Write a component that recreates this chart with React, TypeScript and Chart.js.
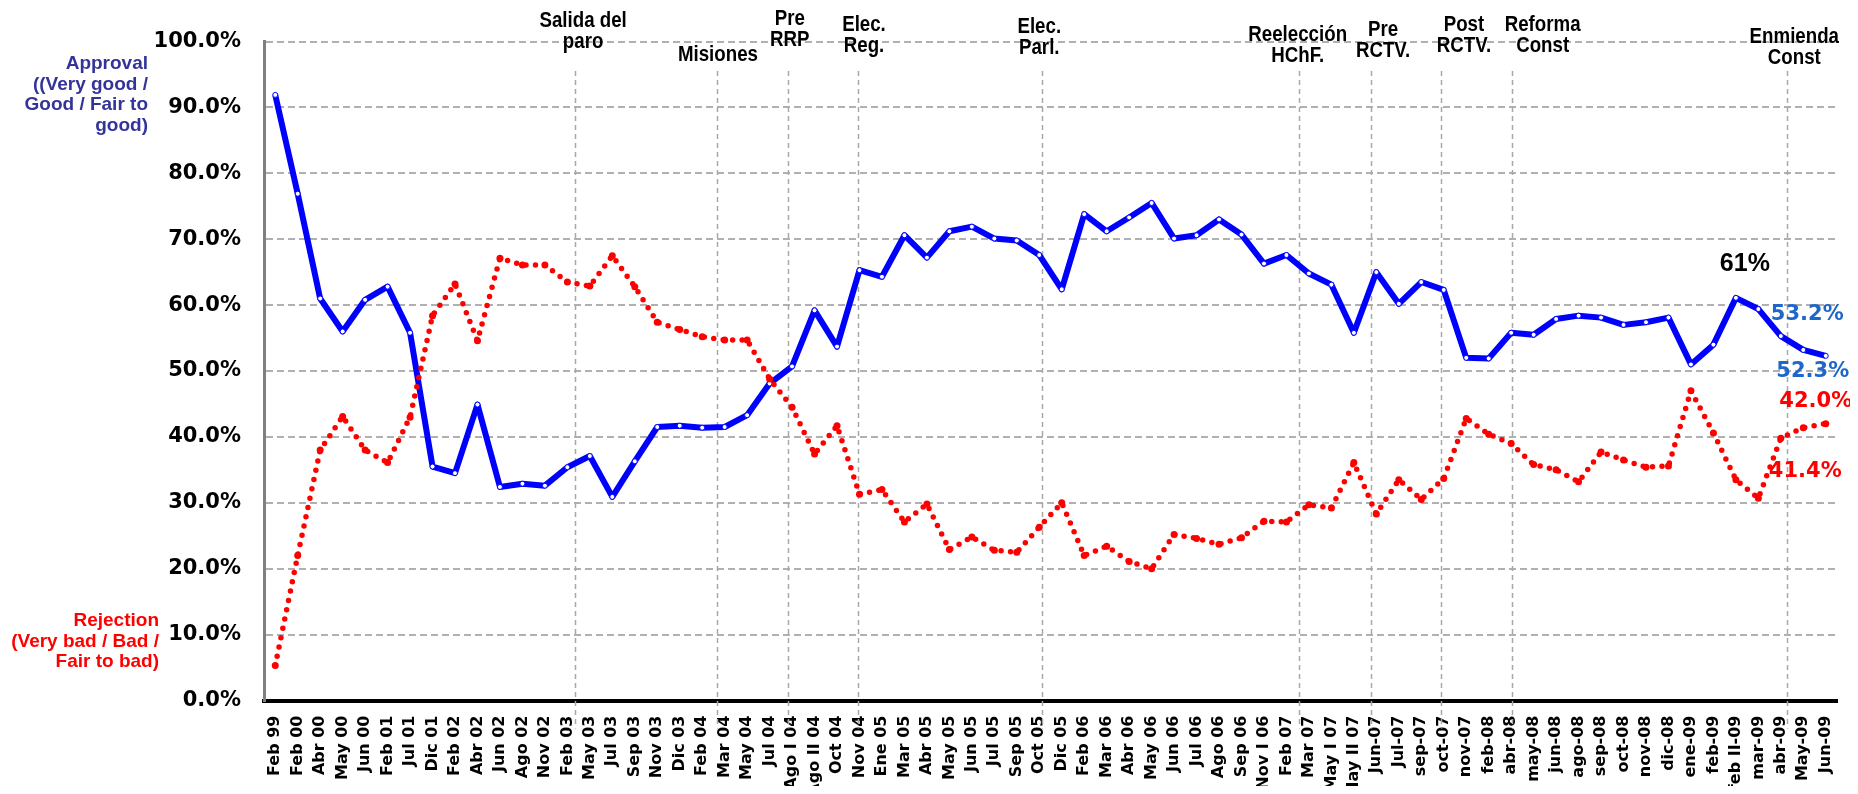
import React, { useEffect, useRef } from "react";
import { Chart, registerables } from "chart.js";

Chart.register(...registerables);

const categories = [
  "Feb 99", "Feb 00", "Abr 00", "May 00", "Jun 00", "Feb 01", "Jul 01", "Dic 01", "Feb 02", "Abr 02",
  "Jun 02", "Ago 02", "Nov 02", "Feb 03", "May 03", "Jul 03", "Sep 03", "Nov 03", "Dic 03", "Feb 04",
  "Mar 04", "May 04", "Jul 04", "Ago I 04", "Ago II 04", "Oct 04", "Nov 04", "Ene 05", "Mar 05", "Abr 05",
  "May 05", "Jun 05", "Jul 05", "Sep 05", "Oct 05", "Dic 05", "Feb 06", "Mar 06", "Abr 06", "May 06",
  "Jun 06", "Jul 06", "Ago 06", "Sep 06", "Nov I 06", "Feb 07", "Mar 07", "May I 07", "May II 07", "Jun-07",
  "Jul-07", "sep-07", "oct-07", "nov-07", "feb-08", "abr-08", "may-08", "jun-08", "ago-08", "sep-08",
  "oct-08", "nov-08", "dic-08", "ene-09", "feb-09", "feb II-09", "mar-09", "abr-09", "May-09", "Jun-09",
];

const approval = [
  91.9, 76.9, 61.0, 56.0, 60.8, 62.8, 55.8, 35.5, 34.5, 44.9,
  32.4, 32.9, 32.6, 35.4, 37.1, 30.9, 36.3, 41.5, 41.7, 41.4,
  41.5, 43.3, 48.1, 50.7, 59.2, 53.7, 65.3, 64.3, 70.6, 67.2,
  71.2, 71.9, 70.1, 69.8, 67.6, 62.4, 73.8, 71.2, 73.3, 75.5,
  70.1, 70.6, 73.0, 70.7, 66.3, 67.6, 64.8, 63.1, 55.8, 65.0,
  60.2, 63.5, 62.3, 52.0, 51.9, 55.8, 55.5, 57.9, 58.4, 58.1,
  57.0, 57.4, 58.1, 51.0, 54.0, 61.1, 59.4, 55.3, 53.2, 52.3,
];

const rejection = [
  5.3, 22.0, 38.0, 43.1, 38.0, 36.1, 43.0, 58.4, 63.2, 54.6,
  67.1, 66.1, 66.1, 63.5, 62.9, 67.5, 62.8, 57.4, 56.3, 55.2,
  54.7, 54.7, 48.8, 44.5, 37.4, 41.7, 31.3, 32.0, 27.1, 29.8,
  22.9, 24.8, 22.8, 22.5, 26.3, 30.0, 22.0, 23.4, 21.1, 20.0,
  25.2, 24.6, 23.7, 24.7, 27.2, 27.1, 29.7, 29.2, 36.1, 28.3,
  33.5, 30.5, 33.7, 42.8, 40.4, 39.0, 35.8, 35.0, 33.2, 37.7,
  36.5, 35.4, 35.6, 47.0, 40.6, 33.5, 30.7, 39.8, 41.4, 42.0,
];

const yTickValues = [0, 10, 20, 30, 40, 50, 60, 70, 80, 90, 100];

const eventLabels = [
  ["Salida del", "paro"],
  ["Misiones"],
  ["Pre", "RRP"],
  ["Elec.", "Reg."],
  ["Elec.", "Parl."],
  ["Reelección", "HChF."],
  ["Pre", "RCTV."],
  ["Post", "RCTV."],
  ["Reforma", "Const"],
  ["Enmienda", "Const"],
];
// event marker positions, in category units
const eventLinePos = [13.34, 19.68, 22.8, 25.95, 34.13, 45.58, 48.76, 51.89, 55.03, 67.26];
const eventTextPos = [13.7, 19.7, 22.9, 26.2, 34.0, 45.5, 49.3, 52.9, 56.4, 67.6];
const eventTextY = [13, 47, 11, 17, 19, 27, 22, 17, 17, 29];

const approvalTitle = ["Approval", "((Very good /", "Good / Fair to", "good)"];
const rejectionTitle = ["Rejection", "(Very bad / Bad /", "Fair to bad)"];

export default function App() {
  const ref = useRef<HTMLCanvasElement>(null);

  useEffect(() => {
    const canvas = ref.current;
    if (!canvas) return;

    const overlay = {
      id: "overlay",
      beforeDatasetsDraw(chart: any) {
        const ctx = chart.ctx;
        const xs = chart.scales.x;
        const area = chart.chartArea;
        const x0 = xs.getPixelForValue(0);
        const step = xs.getPixelForValue(1) - x0;
        ctx.save();
        ctx.strokeStyle = "#A8A8A8";
        ctx.lineWidth = 1.5;
        ctx.setLineDash([5, 4]);
        for (const p of eventLinePos) {
          const x = Math.round(x0 + p * step) + 0.5;
          ctx.beginPath();
          ctx.moveTo(x, 63);
          ctx.lineTo(x, area.bottom + 28);
          ctx.stroke();
        }
        ctx.restore();
      },
      afterDraw(chart: any) {
        const ctx = chart.ctx;
        const xs = chart.scales.x;
        const ys = chart.scales.y;
        const x0 = xs.getPixelForValue(0);
        const step = xs.getPixelForValue(1) - x0;
        ctx.save();
        // event annotations (narrow bold face)
        ctx.fillStyle = "#000";
        ctx.textAlign = "center";
        ctx.textBaseline = "middle";
        ctx.font = "bold 22px 'Liberation Sans', Arial, sans-serif";
        const sx = 0.85;
        eventLabels.forEach((lines, i) => {
          const x = x0 + eventTextPos[i] * step;
          lines.forEach((t, j) => {
            ctx.save();
            ctx.translate(x, eventTextY[i] + j * 21);
            ctx.scale(sx, 1);
            ctx.fillText(t, 0, 0);
            ctx.restore();
          });
        });
        // axis titles
        ctx.textAlign = "right";
        ctx.font = "bold 19px 'Liberation Sans', Arial, sans-serif";
        ctx.fillStyle = "#333399";
        approvalTitle.forEach((t, j) => ctx.fillText(t, 140, 56 + j * 20.5));
        ctx.fillStyle = "#FF0000";
        rejectionTitle.forEach((t, j) => ctx.fillText(t, 151, 613 + j * 20.5));
        // data labels
        ctx.textAlign = "center";
        const px = (i: number) => xs.getPixelForValue(i);
        const py = (v: number) => ys.getPixelForValue(v);
        const peak = 65;
        ctx.font = "bold 25px 'Liberation Sans', Arial, sans-serif";
        ctx.fillStyle = "#000";
        ctx.fillText(Math.round(approval[peak]) + "%", px(peak) + 9, py(approval[peak]) - 34);
        ctx.font = "bold 21px 'DejaVu Sans', sans-serif";
        const n = approval.length;
        ctx.fillStyle = "#1F66CC";
        ctx.fillText(approval[n - 2].toFixed(1) + "%", px(n - 2) + 4, py(approval[n - 2]) - 35);
        ctx.fillText(approval[n - 1].toFixed(1) + "%", px(n - 1) - 13, py(approval[n - 1]) + 16);
        ctx.fillStyle = "#FF0000";
        ctx.fillText(rejection[n - 1].toFixed(1) + "%", px(n - 1) - 10, py(rejection[n - 1]) - 22);
        ctx.fillText(rejection[n - 2].toFixed(1) + "%", px(n - 2) + 2, py(rejection[n - 2]) + 44);
        ctx.restore();
      },
    };

    const chart = new Chart(canvas, {
      type: "line",
      data: {
        labels: categories,
        datasets: [
          {
            label: "Rejection",
            data: rejection,
            order: 0,
            borderColor: "#FF0000",
            borderWidth: 5.5,
            borderDash: [0, 9.5],
            borderCapStyle: "round",
            pointRadius: 3.5,
            pointBackgroundColor: "#FF0000",
            pointBorderWidth: 0,
            tension: 0,
            fill: false,
          },
          {
            label: "Approval",
            data: approval,
            order: 1,
            borderColor: "#0000FF",
            borderWidth: 6,
            borderJoinStyle: "round",
            pointRadius: 2.5,
            pointBackgroundColor: "#FFFFFF",
            pointBorderColor: "#0000FF",
            pointBorderWidth: 1,
            tension: 0,
            fill: false,
          },
        ],
      },
      options: {
        animation: false,
        responsive: true,
        maintainAspectRatio: false,
        layout: { padding: { top: 33.5, right: 13, left: 0, bottom: 0 } },
        plugins: {
          legend: { display: false },
          tooltip: { enabled: false },
        },
        scales: {
          x: {
            type: "category",
            offset: true,
            grid: { display: false, drawTicks: false },
            border: { display: true, color: "#000000", width: 4 },
            ticks: {
              autoSkip: false,
              minRotation: 90,
              maxRotation: 90,
              padding: 15,
              color: "#000",
              font: { family: "'DejaVu Sans', sans-serif", weight: "bold", size: 16 },
            },
            afterFit(s: any) {
              s.height = 85.5;
              s.paddingLeft = 0;
              s.paddingRight = 0;
            },
          },
          y: {
            min: 0,
            max: 100,
            afterBuildTicks(s: any) {
              s.ticks = yTickValues.map((v) => ({ value: v }));
            },
            grid: { color: "#B0B0B0", lineWidth: 2, drawTicks: false },
            border: { display: true, color: "#808080", width: 3, dash: [7, 4] },
            ticks: {
              padding: 23,
              color: "#000",
              font: { family: "'DejaVu Sans', sans-serif", weight: "bold", size: 21 },
              callback: (v: any) => Number(v).toFixed(1) + "%",
            },
            afterFit(s: any) {
              s.width = 256;
              s.paddingTop = 0;
              s.paddingBottom = 0;
            },
          },
        },
      },
      plugins: [overlay],
    });
    return () => chart.destroy();
  }, []);

  return (
    <div style={{ position: "relative", width: "1842px", height: "778px" }}>
      <canvas ref={ref} />
    </div>
  );
}
